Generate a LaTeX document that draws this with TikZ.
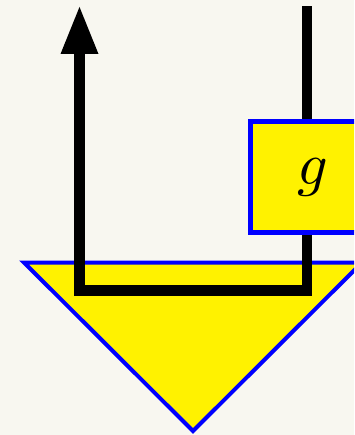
\documentclass[tikz,border=0pt]{standalone}
\usetikzlibrary{arrows.meta,positioning}

\definecolor{bgpaper}{RGB}{248,247,240}
\definecolor{stateyellow}{RGB}{255,242,0}

\begin{document}
\begin{tikzpicture}[
    x=1pt, y=-1pt,
    wire/.style={line width=10.5pt, draw=black},
    outarrow/.style={{Triangle[length=47pt, width=38pt, line width=0pt]}-},
    state/.style={draw=blue, fill=stateyellow, line width=4pt},
    morphism/.style={rectangle, draw=blue, fill=stateyellow, line width=5pt, inner sep=0pt,
        minimum width=125pt, minimum height=111pt}
]

% Canvas
\fill[bgpaper] (0,0) rectangle (354,435);
\clip (0,0) rectangle (354,435);

% State (bottom)
\coordinate (state-left) at (24,262.5);
\coordinate (state-right) at (362,262.5);
\coordinate (state-tip) at (193,431);
\draw[state] (state-left) -- (state-right) -- (state-tip) -- cycle;

% Wire ends
\coordinate (out-top) at (79.5,7);
\coordinate (in-top) at (307,6);
\coordinate (cup) at (307,290.5);

% Wire
\draw[wire, outarrow] (out-top) |- (cup) -- (in-top);

% Box on the right wire
\node[morphism] (g) at (313,177) {\scalebox{6}{$g$}};

\end{tikzpicture}
\end{document}
